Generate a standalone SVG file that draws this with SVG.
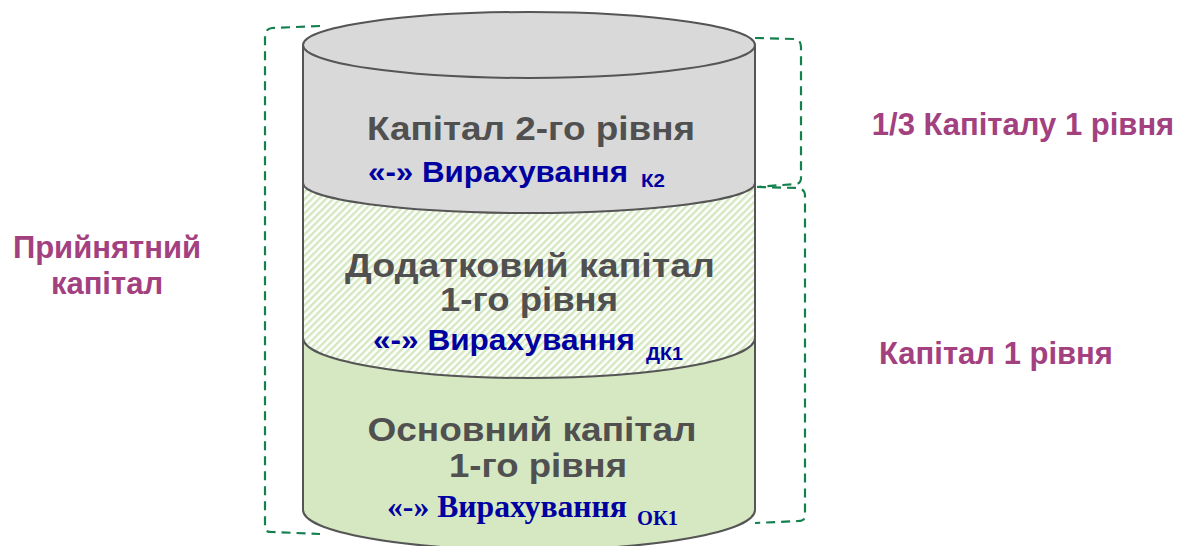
<svg xmlns="http://www.w3.org/2000/svg" width="1181" height="546" viewBox="0 0 1181 546">
<style>
.edge{fill:none;stroke:#555;stroke-width:2}
.br{fill:none;stroke:#13804e;stroke-width:2.2;stroke-dasharray:9 6}
.t{font-family:"Liberation Sans",Arial,sans-serif;font-weight:bold;fill:#505050;font-size:33px;text-anchor:middle}
.b{font-family:"Liberation Sans",Arial,sans-serif;font-weight:bold;fill:#0000a0;font-size:29px}
.bs{font-family:"Liberation Serif","Times New Roman",serif;font-weight:bold;fill:#0000a0;font-size:32px}
.sub{font-size:19px}
.m{font-family:"Liberation Sans",Arial,sans-serif;font-weight:bold;fill:#a3407f;font-size:31px;text-anchor:middle}
</style>
<defs>
<pattern id="hatch" patternUnits="userSpaceOnUse" width="5" height="5" patternTransform="rotate(45)">
<rect width="5" height="5" fill="#fff"/>
<rect width="2.4" height="5" fill="#d3e7c0"/>
</pattern>
</defs>
<rect width="1181" height="546" fill="#fff"/>
<g id="connectors">
<path class="br" d="M320,26 L272,28 Q265,29 265,36 L265,528 Q265,532 272,532 L320,534"/>
<path class="br" d="M755,38 L795,39 Q801,40 801,47 L801,178 Q801,184 795,184 L757,187"/>
<path class="br" d="M757,187 L798,188 Q805,189 805,196 L805,516 Q805,521 798,521 L755,523"/>
</g>
<g id="node-k1o">
<path d="M303,338 A226,40 0 0 0 755,338 L755,510 A226,40 0 0 1 303,510 Z" fill="#d5e8c1"/>
<path class="edge" d="M303,338 L303,510 A226,40 0 0 0 755,510 L755,338"/>
<text class="t" x="532" y="441" textLength="329" lengthAdjust="spacingAndGlyphs">Основний капітал</text>
<text class="t" x="538" y="477" textLength="178" lengthAdjust="spacingAndGlyphs">1-го рівня</text>
<text class="bs" x="387" y="517" textLength="240" lengthAdjust="spacingAndGlyphs">«-» Вирахування</text>
<text class="bs sub" x="637" y="525" style="font-size:20px" textLength="41" lengthAdjust="spacingAndGlyphs">ОК1</text>
</g>
<g id="node-k1d">
<path d="M303,183 A226,30 0 0 0 755,183 L755,338 A226,40 0 0 1 303,338 Z" fill="url(#hatch)"/>
<path class="edge" d="M303,183 L303,338 A226,40 0 0 0 755,338 L755,183"/>
<text class="t" x="530" y="277" textLength="370" lengthAdjust="spacingAndGlyphs">Додатковий капітал</text>
<text class="t" x="529" y="311" textLength="178" lengthAdjust="spacingAndGlyphs">1-го рівня</text>
<text class="b" x="373" y="350" textLength="262" lengthAdjust="spacingAndGlyphs">«-» Вирахування</text>
<text class="b sub" x="646" y="360" textLength="37" lengthAdjust="spacingAndGlyphs">ДК1</text>
</g>
<g id="node-k2">
<path d="M303,45 A226,33 0 0 1 755,45 L755,183 A226,30 0 0 1 303,183 Z" fill="#d9d9d9"/>
<path class="edge" d="M303,45 L303,183 A226,30 0 0 0 755,183 L755,45"/>
<ellipse class="edge" cx="529" cy="45" rx="226" ry="33" fill="#d9d9d9"/>
<text class="t" x="531" y="140" textLength="328" lengthAdjust="spacingAndGlyphs">Капітал 2-го рівня</text>
<text class="b" x="368" y="182" textLength="260" lengthAdjust="spacingAndGlyphs">«-» Вирахування</text>
<text class="b sub" x="641" y="187" textLength="24" lengthAdjust="spacingAndGlyphs">К2</text>
</g>
<g id="label-accepted">
<text class="m" x="107" y="258">Прийнятний</text>
<text class="m" x="107" y="294">капітал</text>
</g>
<g id="label-third">
<text class="m" x="1023" y="135">1/3 Капіталу 1 рівня</text>
</g>
<g id="label-tier1">
<text class="m" x="996" y="364">Капітал 1 рівня</text>
</g>
</svg>
